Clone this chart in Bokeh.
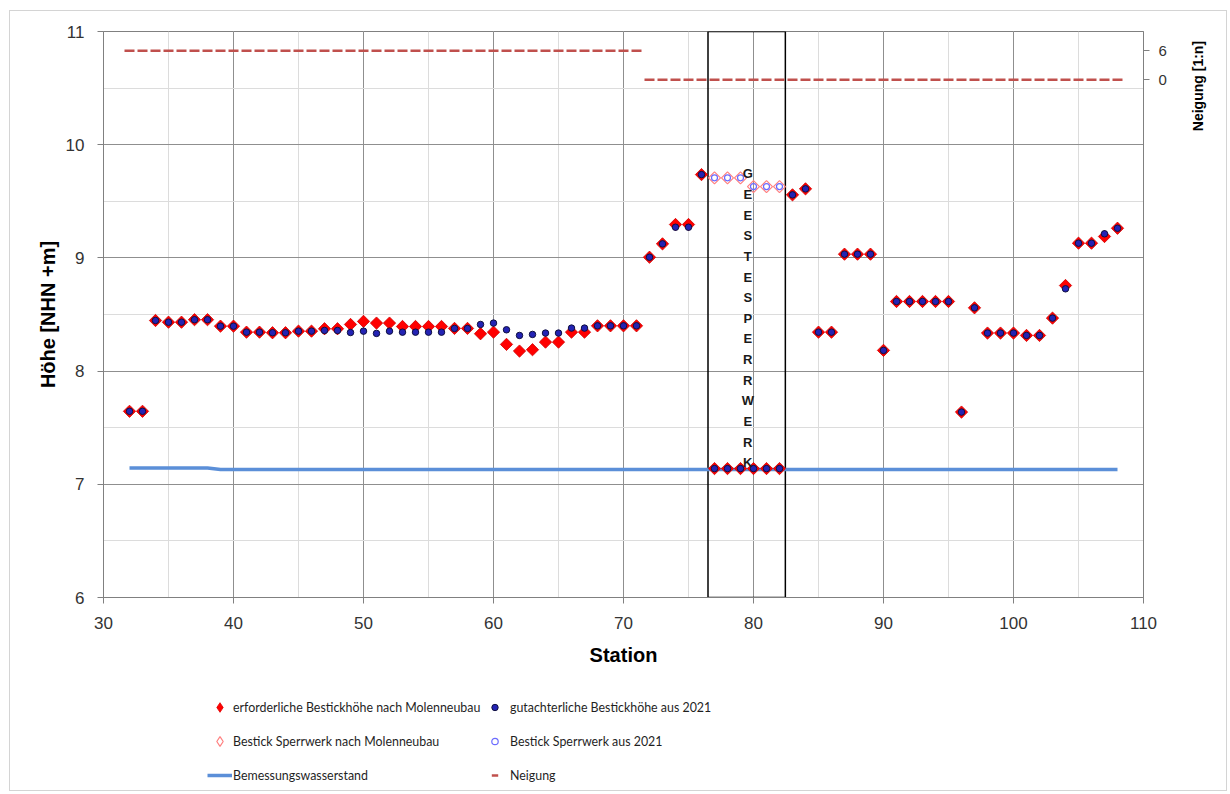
import math
from bokeh.plotting import figure
from bokeh.layouts import column, row
from bokeh.models import (Range1d, LinearAxis, SingleIntervalTicker, FixedTicker,
                          Legend, LegendItem, Label, ColumnDataSource)
from bokeh.core.properties import value
from bokeh.embed import file_html
from bokeh.resources import INLINE

# ---------------- data ----------------
stations = list(range(32, 109))

erforderlich = [
    7.645, 7.645,
    8.447, 8.432, 8.432, 8.454, 8.454, 8.397, 8.397,
    8.344, 8.344, 8.339, 8.339, 8.353, 8.353, 8.374, 8.374, 8.412, 8.439,
    8.424, 8.424, 8.394, 8.394, 8.394, 8.394, 8.377, 8.377, 8.330, 8.344,
    8.236, 8.177, 8.189, 8.256, 8.256, 8.344, 8.344, 8.400, 8.400, 8.400,
    8.400, 9.006, 9.124, 9.295, 9.295, 9.736, 7.139, 7.139, 7.139, 7.139,
    7.139, 7.139, 9.557, 9.610, 8.344, 8.344, 9.033, 9.033, 9.033, 8.183,
    8.615, 8.615, 8.615, 8.615, 8.615, 7.638, 8.559, 8.336, 8.336, 8.336,
    8.315, 8.315, 8.468, 8.756, 9.130, 9.130, 9.189, 9.262,
]

gutachterlich = [
    7.645, 7.645,
    8.447, 8.432, 8.432, 8.454, 8.454, 8.397, 8.397,
    8.344, 8.344, 8.339, 8.339, 8.353, 8.353, 8.359, 8.359, 8.341, 8.353,
    8.333, 8.353, 8.344, 8.344, 8.344, 8.344, 8.377, 8.377, 8.412, 8.424,
    8.365, 8.315, 8.324, 8.336, 8.336, 8.380, 8.380, 8.400, 8.400, 8.400,
    8.400, 9.006, 9.124, 9.271, 9.271, 9.736, 7.139, 7.139, 7.139, 7.139,
    7.139, 7.139, 9.557, 9.610, 8.344, 8.344, 9.033, 9.033, 9.033, 8.183,
    8.615, 8.615, 8.615, 8.615, 8.615, 7.638, 8.559, 8.336, 8.336, 8.336,
    8.315, 8.315, 8.468, 8.727, 9.130, 9.130, 9.213, 9.262,
]

neigung = [
    6, 6, 6, 6, 6, 6, 6, 6, 6, 6, 6, 6, 6, 6, 6, 6, 6, 6, 6, 6,
    6, 6, 6, 6, 6, 6, 6, 6, 6, 6, 6, 6, 6, 6, 6, 6, 6, 6, 6, 6,
    0, 0, 0, 0, 0, 0, 0, 0, 0, 0, 0, 0, 0, 0, 0, 0, 0, 0, 0, 0,
    0, 0, 0, 0, 0, 0, 0, 0, 0, 0, 0, 0, 0, 0, 0, 0, 0,
]

sperr_stations = [77, 78, 79, 80, 81, 82]
sperr_molen = [9.707, 9.707, 9.707, 9.630, 9.630, 9.630]
sperr_2021 = [9.707, 9.707, 9.707, 9.630, 9.630, 9.630]

bws_stations = [32, 38, 39, 108]
bws_values = [7.144, 7.144, 7.130, 7.130]

sperrwerk_box = [76.5, 82.45]          # station range of the Sperrwerk frame
sperrwerk_name = "GEESTESPERRWERK"

x_ticks_interval = 10
right_ticks = [0, 6]

labels_legend = [
    "erforderliche Bestickhöhe nach Molenneubau",
    "gutachterliche Bestickhöhe aus 2021",
    "Bestick Sperrwerk nach Molenneubau",
    "Bestick Sperrwerk aus 2021",
    "Bemessungswasserstand",
    "Neigung",
]

# ---------------- styling ----------------
FONT = "Liberation Sans"
LEGFONT = "Lato"
TXT = "#333333"
MAJOR_GRID = "#8f8f8f"
MINOR_GRID = "#dcdcdc"

C_RED = "#ff0000"
C_BLUE = "#2323b4"
C_OPEN_RED = "#ff8080"
C_OPEN_BLUE = "#6b6bff"
C_BWS = "#5b8fd8"
C_NEIG = "#c0504d"

p = figure(width=1170, height=669,
           x_range=Range1d(30, 110), y_range=Range1d(6, 11),
           output_backend="svg", toolbar_location=None,
           min_border_left=93, min_border_right=37,
           min_border_top=20, min_border_bottom=83,
           x_axis_label="Station", y_axis_label="Höhe [NHN +m]")
p.outline_line_color = "#808080"
p.outline_line_width = 1

xt = SingleIntervalTicker(interval=x_ticks_interval, num_minor_ticks=2)
yt = SingleIntervalTicker(interval=1, num_minor_ticks=2)
p.xaxis.ticker = xt
p.xgrid.ticker = xt
p.left[0].ticker = yt
p.ygrid.ticker = yt

for g in (p.xgrid[0], p.ygrid[0]):
    g.grid_line_color = MAJOR_GRID
    g.grid_line_width = 1
    g.minor_grid_line_color = MINOR_GRID
    g.minor_grid_line_width = 1

p.extra_y_ranges = {"neig": Range1d(-107.3, 10)}
raxis = LinearAxis(y_range_name="neig", ticker=FixedTicker(ticks=right_ticks))
p.add_layout(raxis, "right")

for ax in (p.below[0], p.left[0], raxis):
    ax.axis_line_color = "#808080"
    ax.major_tick_line_color = "#808080"
    ax.major_tick_out = 6
    ax.major_tick_in = 0
    ax.minor_tick_line_color = None
    ax.major_label_text_font = FONT
    ax.major_label_text_font_size = "17px"
    ax.major_label_text_color = TXT
    ax.axis_label_text_font = FONT
    ax.axis_label_text_font_size = "20px"
    ax.axis_label_text_font_style = "bold"
    ax.axis_label_text_color = "black"

p.below[0].major_label_standoff = 13
p.below[0].axis_label_standoff = 12
p.left[0].major_label_standoff = 13
p.left[0].axis_label_standoff = 4
raxis.major_label_standoff = 9
raxis.major_label_text_font_size = "15px"

# Sperrwerk frame
p.quad(left=[sperrwerk_box[0]], right=[sperrwerk_box[1]], bottom=[6], top=[11],
       fill_color=None, line_color="black", line_width=1.5)

# Neigung (dash markers on secondary axis)
p.scatter(stations, neigung, y_range_name="neig", marker="dash",
          size=10, line_color=C_NEIG, line_width=2.5)

# Bemessungswasserstand
p.line(bws_stations, bws_values, line_color=C_BWS, line_width=3.5)

# Filled series
p.scatter(stations, erforderlich, marker="square", angle=math.pi / 4,
          size=8.7, fill_color=C_RED, line_color="#d00000", line_width=0.8)
p.scatter(stations, gutachterlich, marker="circle", size=6.5,
          fill_color=C_BLUE, line_color="#101040", line_width=1)

# Sperrwerk series (open)
p.scatter(sperr_stations, sperr_molen, marker="square", angle=math.pi / 4,
          size=8.5, fill_color=None, line_color=C_OPEN_RED, line_width=1.2)
p.scatter(sperr_stations, sperr_2021, marker="circle", size=6,
          fill_color=None, line_color=C_OPEN_BLUE, line_width=1.2)

# Sperrwerk name written vertically
src_txt = ColumnDataSource(dict(x=[79.56], y=[8.466], t=["\n".join(sperrwerk_name)]))
p.text(x="x", y="y", text="t", source=src_txt, text_font=value(FONT),
       text_font_size="13px", text_font_style="bold", text_color="#1a1a1a",
       text_align="center", text_baseline="middle", text_line_height=1.377)

# ---------- right strip with secondary axis title ----------
rf = figure(width=46, height=669, x_range=Range1d(0, 1), y_range=Range1d(0, 1),
            output_backend="svg", toolbar_location=None,
            x_axis_type=None, y_axis_type=None,
            min_border_left=0, min_border_right=0, min_border_top=0, min_border_bottom=0)
rf.outline_line_color = None
rf.xgrid.visible = False
rf.ygrid.visible = False
rf.add_layout(Label(x=0.39, y=0.9036, text="Neigung [1:n]",
                    angle=math.pi / 2, text_align="center", text_baseline="middle",
                    text_font=FONT, text_font_size="14px", text_font_style="bold",
                    text_color="black"))

# ---------- legend strip ----------
lf = figure(width=1216, height=110, x_range=Range1d(0, 1), y_range=Range1d(0, 1),
            output_backend="svg", toolbar_location=None,
            x_axis_type=None, y_axis_type=None,
            min_border_left=0, min_border_right=0, min_border_top=0, min_border_bottom=0)
lf.outline_line_color = None
lf.xgrid.visible = False
lf.ygrid.visible = False

far = [-5]
g_erf = lf.scatter(far, far, marker="diamond", size=8.5,
                   fill_color=C_RED, line_color="#e00000", line_width=0.8)
g_gut = lf.scatter(far, far, marker="circle", size=6.5,
                   fill_color=C_BLUE, line_color="#101040", line_width=1)
g_smol = lf.scatter(far, far, marker="diamond", size=8.5,
                    fill_color=None, line_color=C_OPEN_RED, line_width=1.2)
g_s21 = lf.scatter(far, far, marker="circle", size=6,
                   fill_color=None, line_color=C_OPEN_BLUE, line_width=1.2)
g_bws = lf.line(far, far, line_color=C_BWS, line_width=3.5)
g_neig = lf.scatter(far, far, marker="dash", size=10, line_color=C_NEIG, line_width=2.5)


def make_legend(items, xoff, yoff, gh, sp, standoff):
    return Legend(items=items, location=(xoff, yoff), orientation="vertical",
                  glyph_width=25, glyph_height=gh, label_height=gh,
                  label_standoff=standoff, spacing=sp, padding=0, margin=0,
                  border_line_color=None, background_fill_alpha=0,
                  label_text_font=LEGFONT, label_text_font_size="12.4px",
                  label_text_color="#1f1f1f")


leg1 = make_legend([
    LegendItem(label=labels_legend[0], renderers=[g_erf]),
    LegendItem(label=labels_legend[2], renderers=[g_smol]),
    LegendItem(label=labels_legend[4], renderers=[g_bws]),
], 197, 3, 24, 10, 1)
leg2 = make_legend([
    LegendItem(label=labels_legend[1], renderers=[g_gut]),
    LegendItem(label=labels_legend[3], renderers=[g_s21]),
    LegendItem(label=labels_legend[5], renderers=[g_neig]),
], 472, 7, 16, 18, 3)
lf.add_layout(leg1, "center")
lf.add_layout(leg2, "center")

layout = column(row(p, rf), lf, width=1216, height=779)
layout.styles = {"border": "1px solid #d4d4d4", "margin-left": "9px", "margin-top": "10px",
                 "box-sizing": "content-box"}

open("out.html", "w").write(file_html(layout, INLINE))
